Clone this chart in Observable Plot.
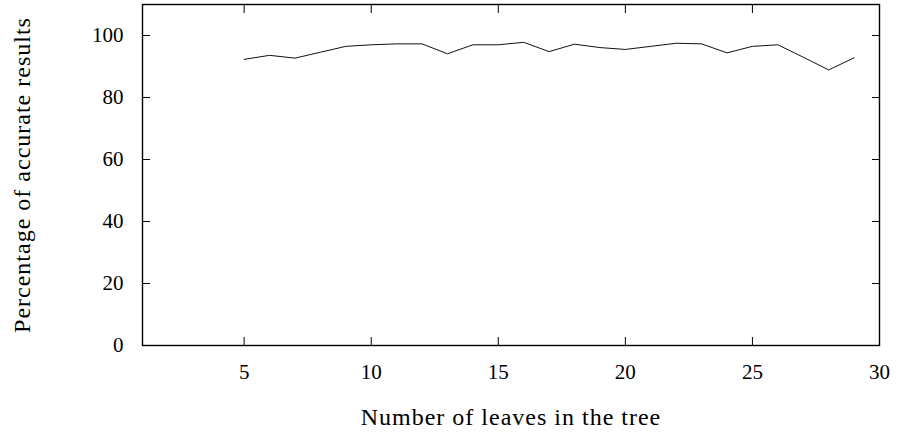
<!DOCTYPE html>
<html>
<head>
<meta charset="utf-8">
<script src="https://cdn.jsdelivr.net/npm/d3@7"></script>
<script src="https://cdn.jsdelivr.net/npm/@observablehq/plot@0.6"></script>
<style>
  html, body { margin: 0; padding: 0; background: #fff; }
  #chart svg, #chart svg text { font-family: "Liberation Serif", "DejaVu Serif", serif !important; }
  #chart svg { font-size: 21px !important; }
  #chart svg g[aria-label="x-axis label"] text,
  #chart svg g[aria-label="y-axis label"] text { letter-spacing: 1px; font-size: 24px; }
</style>
</head>
<body>
<div id="chart"></div>
<script>
const leaves = [5, 6, 7, 8, 9, 10, 11, 12, 13, 14, 15, 16, 17, 18, 19, 20, 21, 22, 23, 24, 25, 26, 27, 28, 29];
const accuracy = [92.3, 93.6, 92.7, 94.6, 96.5, 97.0, 97.3, 97.3, 94.1, 97.0, 97.0, 97.8, 94.8, 97.2, 96.1, 95.5, 96.5, 97.5, 97.3, 94.4, 96.5, 97.0, 93.0, 88.9, 92.8];
const xTicks = [5, 10, 15, 20, 25, 30];
const yTicks = [0, 20, 40, 60, 80, 100];
const xLabel = "Number of leaves in the tree";
const yLabel = "Percentage of accurate results";

const data = leaves.map((x, i) => ({x, y: accuracy[i]}));

const chart = Plot.plot({
  width: 899,
  height: 432,
  marginLeft: 142,
  marginRight: 20,
  marginTop: 4,
  marginBottom: 87,
  style: {color: "black", background: "white"},
  x: {domain: [1, 30]},
  y: {domain: [0, 110]},
  marks: [
    Plot.frame({stroke: "black", strokeWidth: 1.4}),
    Plot.axisX(xTicks, {anchor: "bottom", tickSize: 0, tickPadding: 19, label: xLabel, labelAnchor: "center", labelArrow: "none", labelOffset: 79}),
    Plot.axisX(xTicks, {anchor: "bottom", tickSize: -8, fill: "none", label: null}),
    Plot.axisX(xTicks, {anchor: "top", tickSize: -8, fill: "none", label: null}),
    Plot.axisY(yTicks, {anchor: "left", tickSize: 0, tickPadding: 19, label: yLabel, labelAnchor: "center", labelArrow: "none", labelOffset: 130}),
    Plot.axisY(yTicks, {anchor: "left", tickSize: -8, fill: "none", label: null}),
    Plot.axisY(yTicks, {anchor: "right", tickSize: -8, fill: "none", label: null}),
    Plot.line(data, {x: "x", y: "y", stroke: "#111", strokeWidth: 1})
  ]
});
document.getElementById("chart").appendChild(chart);
</script>
</body>
</html>
